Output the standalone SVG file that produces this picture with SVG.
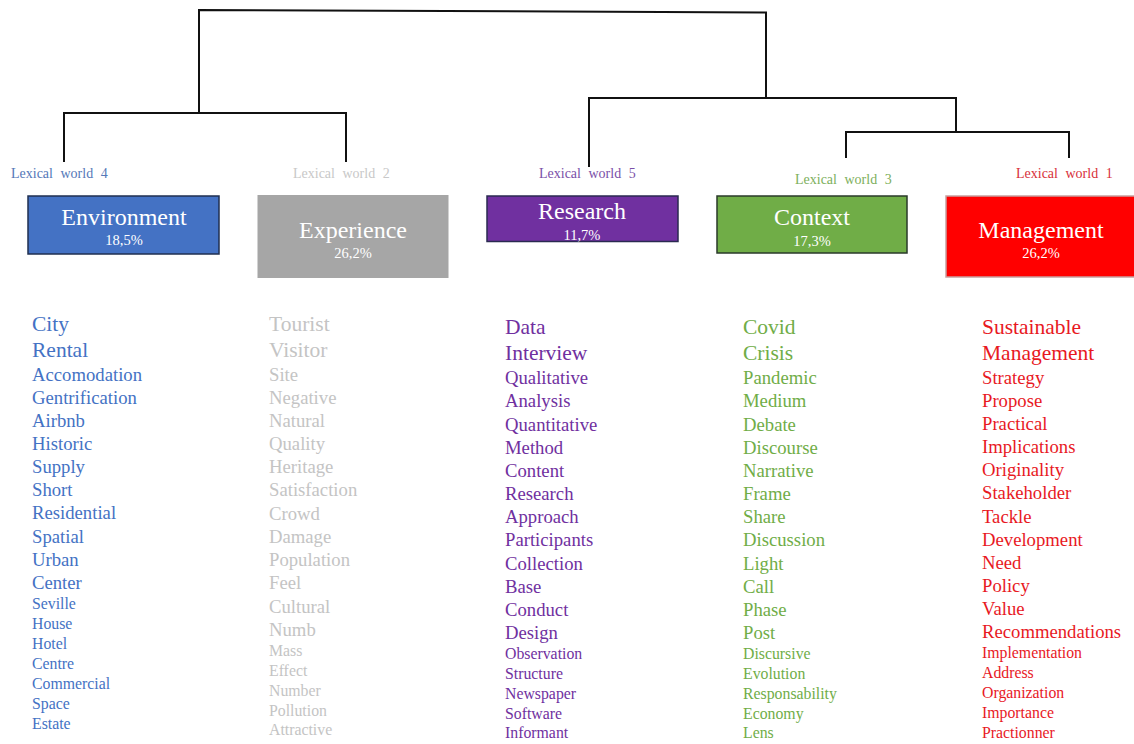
<svg xmlns="http://www.w3.org/2000/svg" width="1134" height="744" viewBox="0 0 1134 744" font-family="'Liberation Serif', 'DejaVu Serif', 'Noto Serif', 'Times New Roman', Times, serif">
<style>
.lw{font-size:14px;word-spacing:4px}
.t{font-size:24px;fill:#fff;text-anchor:middle}
.p{font-size:14.5px;fill:#fff;text-anchor:middle}
.L{font-size:21.5px}
.M{font-size:18.7px}
.S{font-size:15.8px}
.blue{fill:#4472C4}
.gray{fill:#C4C4C4}
.purple{fill:#7030A0}
.green{fill:#70AD47}
.red{fill:#E8191F}
.conn{fill:none;stroke:#111;stroke-width:2}
</style>
<rect width="1134" height="744" fill="#fff"/>
<g id="connectors">
<path class="conn" d="M199,113 V10 L766,12.5 V98"/>
<path class="conn" d="M64,162 V113 H346 V162"/>
<path class="conn" d="M589,167 V98 H956 V132"/>
<path class="conn" d="M846,158 V132 H1069 V158"/>
</g>
<g id="lw4">
<text class="lw" x="11" y="178" fill="#5578B8">Lexical world 4</text>
<rect x="28" y="196" width="191" height="58" fill="#4472C4" stroke="#1F2F50" stroke-width="1.5"/>
<text class="t" x="124" y="225">Environment</text>
<text class="p" x="124" y="245">18,5%</text>
<g class="blue">
<text class="L" x="32" y="331">City</text>
<text class="L" x="32" y="357">Rental</text>
<text class="M" x="32" y="381">Accomodation</text>
<text class="M" x="32" y="404">Gentrification</text>
<text class="M" x="32" y="427">Airbnb</text>
<text class="M" x="32" y="450">Historic</text>
<text class="M" x="32" y="473">Supply</text>
<text class="M" x="32" y="496">Short</text>
<text class="M" x="32" y="519">Residential</text>
<text class="M" x="32" y="543">Spatial</text>
<text class="M" x="32" y="566">Urban</text>
<text class="M" x="32" y="589">Center</text>
<text class="S" x="32" y="609">Seville</text>
<text class="S" x="32" y="629">House</text>
<text class="S" x="32" y="649">Hotel</text>
<text class="S" x="32" y="669">Centre</text>
<text class="S" x="32" y="689">Commercial</text>
<text class="S" x="32" y="709">Space</text>
<text class="S" x="32" y="729">Estate</text>
</g>
</g>
<g id="lw2">
<text class="lw" x="293" y="178" fill="#C8C8C8">Lexical world 2</text>
<rect x="257.5" y="195" width="191" height="83" fill="#A6A6A6"/>
<text class="t" x="353" y="238">Experience</text>
<text class="p" x="353" y="258">26,2%</text>
<g class="gray">
<text class="L" x="269" y="331">Tourist</text>
<text class="L" x="269" y="357">Visitor</text>
<text class="M" x="269" y="381">Site</text>
<text class="M" x="269" y="404">Negative</text>
<text class="M" x="269" y="427">Natural</text>
<text class="M" x="269" y="450">Quality</text>
<text class="M" x="269" y="473">Heritage</text>
<text class="M" x="269" y="496">Satisfaction</text>
<text class="M" x="269" y="520">Crowd</text>
<text class="M" x="269" y="543">Damage</text>
<text class="M" x="269" y="566">Population</text>
<text class="M" x="269" y="589">Feel</text>
<text class="M" x="269" y="613">Cultural</text>
<text class="M" x="269" y="636">Numb</text>
<text class="S" x="269" y="656">Mass</text>
<text class="S" x="269" y="676">Effect</text>
<text class="S" x="269" y="696">Number</text>
<text class="S" x="269" y="716">Pollution</text>
<text class="S" x="269" y="735">Attractive</text>
</g>
</g>
<g id="lw5">
<text class="lw" x="539" y="178" fill="#7A4FA8">Lexical world 5</text>
<rect x="487" y="196" width="191" height="45.5" fill="#7030A0" stroke="#2A2A50" stroke-width="1.5"/>
<text class="t" x="582" y="219">Research</text>
<text class="p" x="582" y="240">11,7%</text>
<g class="purple">
<text class="L" x="505" y="334">Data</text>
<text class="L" x="505" y="360">Interview</text>
<text class="M" x="505" y="384">Qualitative</text>
<text class="M" x="505" y="407">Analysis</text>
<text class="M" x="505" y="431">Quantitative</text>
<text class="M" x="505" y="454">Method</text>
<text class="M" x="505" y="477">Content</text>
<text class="M" x="505" y="500">Research</text>
<text class="M" x="505" y="523">Approach</text>
<text class="M" x="505" y="546">Participants</text>
<text class="M" x="505" y="570">Collection</text>
<text class="M" x="505" y="593">Base</text>
<text class="M" x="505" y="616">Conduct</text>
<text class="M" x="505" y="639">Design</text>
<text class="S" x="505" y="659">Observation</text>
<text class="S" x="505" y="679">Structure</text>
<text class="S" x="505" y="699">Newspaper</text>
<text class="S" x="505" y="719">Software</text>
<text class="S" x="505" y="738">Informant</text>
</g>
</g>
<g id="lw3">
<text class="lw" x="795" y="184" fill="#7DAF5C">Lexical world 3</text>
<rect x="717" y="196" width="190" height="57" fill="#70AD47" stroke="#2A3A2A" stroke-width="1.5"/>
<text class="t" x="812" y="225">Context</text>
<text class="p" x="812" y="246">17,3%</text>
<g class="green">
<text class="L" x="743" y="334">Covid</text>
<text class="L" x="743" y="360">Crisis</text>
<text class="M" x="743" y="384">Pandemic</text>
<text class="M" x="743" y="407">Medium</text>
<text class="M" x="743" y="431">Debate</text>
<text class="M" x="743" y="454">Discourse</text>
<text class="M" x="743" y="477">Narrative</text>
<text class="M" x="743" y="500">Frame</text>
<text class="M" x="743" y="523">Share</text>
<text class="M" x="743" y="546">Discussion</text>
<text class="M" x="743" y="570">Light</text>
<text class="M" x="743" y="593">Call</text>
<text class="M" x="743" y="616">Phase</text>
<text class="M" x="743" y="639">Post</text>
<text class="S" x="743" y="659">Discursive</text>
<text class="S" x="743" y="679">Evolution</text>
<text class="S" x="743" y="699">Responsability</text>
<text class="S" x="743" y="719">Economy</text>
<text class="S" x="743" y="738">Lens</text>
</g>
</g>
<g id="lw1">
<text class="lw" x="1016" y="178" fill="#D8303A">Lexical world 1</text>
<rect x="946" y="196" width="192" height="81" fill="#FF0000" stroke="#C8A0A0" stroke-width="1.5"/>
<text class="t" x="1041" y="238">Management</text>
<text class="p" x="1041" y="258">26,2%</text>
<g class="red">
<text class="L" x="982" y="334">Sustainable</text>
<text class="L" x="982" y="360">Management</text>
<text class="M" x="982" y="384">Strategy</text>
<text class="M" x="982" y="407">Propose</text>
<text class="M" x="982" y="430">Practical</text>
<text class="M" x="982" y="453">Implications</text>
<text class="M" x="982" y="476">Originality</text>
<text class="M" x="982" y="499">Stakeholder</text>
<text class="M" x="982" y="523">Tackle</text>
<text class="M" x="982" y="546">Development</text>
<text class="M" x="982" y="569">Need</text>
<text class="M" x="982" y="592">Policy</text>
<text class="M" x="982" y="615">Value</text>
<text class="M" x="982" y="638">Recommendations</text>
<text class="S" x="982" y="658">Implementation</text>
<text class="S" x="982" y="678">Address</text>
<text class="S" x="982" y="698">Organization</text>
<text class="S" x="982" y="718">Importance</text>
<text class="S" x="982" y="738">Practionner</text>
</g>
</g>
</svg>
